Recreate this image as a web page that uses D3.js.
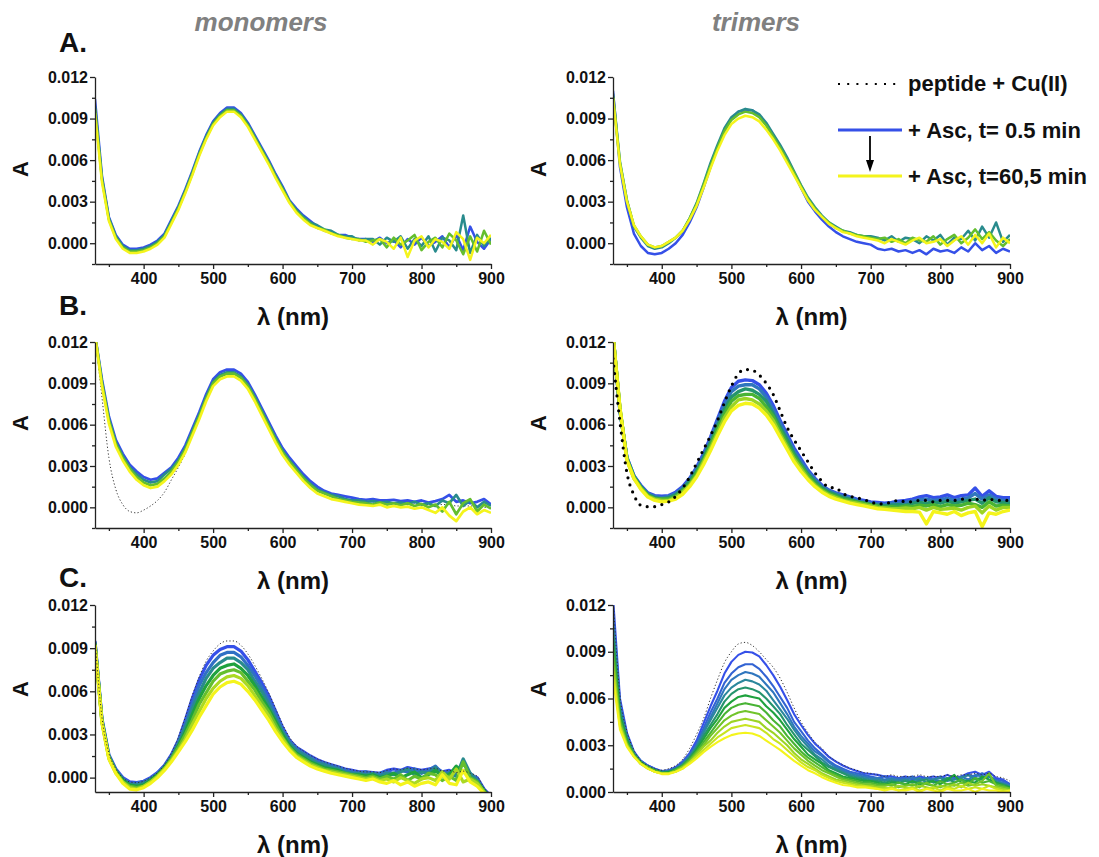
<!DOCTYPE html>
<html>
<head>
<meta charset="utf-8">
<title>Peptide-Cu(II) spectra after ascorbate</title>
<script src="https://d3js.org/d3.v7.min.js"></script>
<style>
  body { margin: 0; background: #fff; }
  svg { font-family: "Liberation Sans", Arial, sans-serif; }
  .axis path, .axis line { stroke: #222; stroke-width: 1.3px; }
  .axis text { font-size: 16px; font-weight: bold; fill: #111; }
  .label { font-weight: bold; fill: #111; }
</style>
</head>
<body>
<script>
// wavelength grid (nm)
const wavelengths = [330,340,350,360,370,380,390,400,410,420,430,440,450,460,470,480,490,500,510,520,
  530,540,550,560,570,580,590,600,610,620,630,640,650,660,670,680,690,700,710,720,
  730,740,750,760,770,780,790,800,810,820,830,840,850,860,870,880,890,900];

// absorbance values in units of 10^-3; each panel lists curves from t=0.5 min to t=60.5 min
const monoA = [
  [10.4,4.9,1.9,0.6,-0.1,-0.4,-0.4,-0.3,-0.1,0.2, 0.7,1.7,2.7,3.9,5.2,6.6,7.8,8.8,9.4,9.8, 9.8,9.4,8.7,7.8,6.9,6.0,5.0,4.1,3.1,2.5, 2.0,1.6,1.2,0.9,0.8,0.6,0.6,0.4, 0.3,0.3,0.1,0.4,0.0,0.2,-0.3,0.3,-0.1,0.4, -0.2,0.1,0.5,-0.3,0.6,-0.5,1.2,0.1,-0.4,0.3],
  [9.9,4.7,1.8,0.5,-0.2,-0.5,-0.5,-0.4,-0.2,0.1, 0.6,1.6,2.6,3.8,5.1,6.5,7.7,8.7,9.3,9.7, 9.7,9.3,8.6,7.7,6.8,5.9,4.9,4.0,3.0,2.4, 1.9,1.5,1.3,1.0,0.9,0.6,0.5,0.5, 0.2,0.3,0.3,-0.1,0.4,0.1,0.5,-0.4,0.3,-0.2, 0.5,-0.6,0.4,0.2,-0.5,2.0,-0.7,0.6,-0.2,0.4],
  [9.7,4.6,1.7,0.4,-0.3,-0.6,-0.6,-0.5,-0.3,0.0, 0.5,1.5,2.5,3.7,5.0,6.4,7.6,8.6,9.2,9.6, 9.6,9.2,8.5,7.6,6.7,5.8,4.8,3.9,3.0,2.3, 1.8,1.4,1.1,1.0,0.7,0.6,0.4,0.3, 0.3,0.1,0.2,0.3,-0.3,0.4,-0.1,0.2,0.6,-0.5, 0.1,0.4,-0.3,0.7,0.2,-0.8,0.5,-0.6,0.9,-0.1],
  [9.4,4.4,1.6,0.3,-0.4,-0.7,-0.7,-0.6,-0.4,-0.1, 0.4,1.4,2.4,3.6,4.9,6.3,7.5,8.5,9.1,9.5, 9.5,9.1,8.4,7.5,6.6,5.7,4.7,3.8,2.9,2.2, 1.7,1.3,1.1,0.9,0.7,0.5,0.4,0.3, 0.2,0.2,-0.1,0.3,0.1,-0.4,0.4,-1.0,0.2,0.5, -0.3,0.3,0.1,-0.4,0.8,0.3,-1.2,0.4,0.0,0.6]
];
const triA = [
  [11.0,5.5,2.6,0.7,-0.2,-0.7,-0.8,-0.7,-0.4,0.0, 0.6,1.5,2.6,4.0,5.5,6.9,8.1,9.0,9.5,9.6, 9.6,9.2,8.6,7.7,6.9,6.0,5.0,4.0,3.0,2.3, 1.7,1.2,0.8,0.5,0.3,0.1,0.0,-0.1, -0.4,-0.5,-0.4,-0.6,-0.5,-0.7,-0.5,-0.8,-0.4,-0.6, -0.5,-0.7,-0.3,-0.6,0.0,-0.5,-0.2,-0.7,-0.4,-0.6],
  [10.8,5.9,3.1,1.2,0.4,-0.2,-0.4,-0.3,0.0,0.4, 0.9,1.8,2.9,4.3,5.8,7.1,8.3,9.1,9.5,9.7, 9.6,9.3,8.7,7.9,7.1,6.2,5.2,4.2,3.3,2.6, 2.0,1.5,1.2,0.9,0.8,0.6,0.5,0.5, 0.4,0.2,0.5,0.1,0.4,0.3,0.0,0.5,0.2,0.6, -0.1,0.4,0.3,0.9,0.2,1.2,0.4,1.5,0.1,0.6],
  [10.6,5.8,3.1,1.3,0.5,-0.1,-0.3,-0.2,0.1,0.4, 0.9,1.8,2.8,4.2,5.6,6.9,8.1,8.9,9.3,9.5, 9.4,9.1,8.5,7.7,6.9,6.0,5.1,4.1,3.2,2.5, 1.9,1.5,1.1,0.9,0.7,0.6,0.5,0.4, 0.3,0.4,0.1,0.3,0.0,0.4,0.2,0.1,0.5,-0.1, 0.3,0.6,0.0,0.4,1.0,0.3,0.8,0.2,-0.2,0.3],
  [10.5,5.7,3.0,1.3,0.5,-0.1,-0.3,-0.2,0.1,0.4, 0.9,1.7,2.7,4.0,5.4,6.7,7.8,8.6,9.0,9.2, 9.1,8.8,8.2,7.5,6.7,5.8,4.9,4.0,3.1,2.4, 1.9,1.4,1.1,0.8,0.7,0.5,0.4,0.3, 0.2,0.0,0.3,0.1,-0.1,0.2,0.4,0.0,0.1,0.3, -0.2,0.2,0.5,-0.1,0.6,0.0,0.7,-0.3,0.4,0.0]
];
const monoB = [
  [12.5,9.3,6.6,4.9,3.9,3.1,2.6,2.2,2.0,2.1, 2.5,2.9,3.6,4.5,5.7,6.9,8.2,9.3,9.8,10.0, 10.0,9.7,9.1,8.2,7.2,6.2,5.2,4.3,3.6,3.0, 2.4,1.9,1.5,1.2,1.0,0.9,0.8,0.7, 0.6,0.55,0.6,0.5,0.5,0.55,0.45,0.5,0.4,0.5, 0.35,0.45,0.6,0.9,0.4,0.5,0.3,0.4,0.6,0.2],
  [12.5,9.1,6.4,4.7,3.7,2.9,2.4,2.0,1.8,1.9, 2.4,2.8,3.4,4.3,5.5,6.7,8.0,9.1,9.6,9.8, 9.8,9.5,8.9,8.0,7.0,6.0,5.0,4.1,3.4,2.8, 2.2,1.7,1.3,1.1,0.9,0.8,0.6,0.5, 0.5,0.4,0.45,0.35,0.4,0.3,0.35,0.25,0.4,0.2, 0.3,0.1,0.5,0.3,0.9,0.1,0.5,0.0,0.4,0.1],
  [12.5,9.0,6.3,4.6,3.6,2.8,2.2,1.8,1.6,1.7, 2.1,2.6,3.3,4.2,5.4,6.6,7.9,9.0,9.5,9.7, 9.7,9.4,8.8,7.9,6.9,5.9,4.9,4.0,3.3,2.7, 2.1,1.6,1.2,1.0,0.8,0.6,0.5,0.4, 0.35,0.3,0.2,0.35,0.2,0.3,0.15,0.3,0.1,0.25, 0.0,0.2,-0.3,0.4,-0.5,0.3,0.6,-0.3,0.2,-0.1],
  [12.5,8.8,6.1,4.4,3.4,2.6,2.0,1.6,1.4,1.5, 1.9,2.4,3.1,4.0,5.2,6.4,7.7,8.8,9.3,9.5, 9.5,9.2,8.6,7.7,6.7,5.7,4.7,3.8,3.1,2.5, 1.9,1.4,1.0,0.8,0.6,0.5,0.4,0.3, 0.2,0.15,0.1,0.2,0.0,0.1,0.0,0.05,-0.1,0.0, -0.2,-0.4,0.0,-0.6,-1.0,-0.3,0.0,-0.5,-0.2,-0.4]
];
const monoBCu = [12.5,8.0,3.6,1.3,0.2,-0.3,-0.4,-0.2,0.1,0.5, 1.1,2.0,2.9,3.9,5.2,6.6,7.9,9.0,9.6,9.9, 9.9,9.5,8.9,8.0,7.0,6.0,5.0,4.1,3.4,2.8, 2.2,1.7,1.3,1.1,0.9,0.8,0.6,0.5, 0.5,0.4,0.4,0.4,0.4,0.3,0.3,0.3,0.3,0.2, 0.2,0.2,0.2,0.2,0.1,0.1,0.1,0.1,0.0,0.0];
const triB = [
  [12.5,7.0,3.6,2.3,1.6,1.05,0.85,0.8,0.85,1.1, 1.5,2.1,2.9,3.9,5.1,6.4,7.7,8.7,9.15,9.25, 9.2,8.9,8.3,7.4,6.3,5.3,4.3,3.5,2.7,2.1, 1.6,1.25,1.05,0.9,0.75,0.6,0.5,0.4, 0.35,0.3,0.35,0.45,0.5,0.6,0.75,0.85,0.7,0.75, 0.9,0.7,0.85,0.9,1.4,0.8,1.2,0.8,0.7,0.7],
  [12.5,7.0,3.6,2.3,1.5,1.0,0.8,0.7,0.8,1.0, 1.4,2.0,2.8,3.7,4.9,6.2,7.4,8.4,8.8,8.9, 8.9,8.6,8.0,7.1,6.1,5.1,4.1,3.3,2.6,2.0, 1.5,1.2,1.0,0.8,0.7,0.5,0.4,0.3, 0.25,0.2,0.3,0.3,0.35,0.45,0.55,0.6,0.5,0.55, 0.65,0.5,0.6,0.7,1.0,0.6,0.9,0.6,0.5,0.5],
  [12.5,7.1,3.5,2.2,1.5,0.9,0.7,0.6,0.7,0.9, 1.3,1.9,2.6,3.6,4.7,5.9,7.1,8.0,8.4,8.6, 8.5,8.2,7.7,6.8,5.8,4.9,3.9,3.1,2.4,1.9, 1.4,1.1,0.9,0.7,0.6,0.4,0.3,0.2, 0.15,0.1,0.15,0.2,0.15,0.3,0.35,0.3,0.4,0.3, 0.45,0.3,0.4,0.5,0.6,0.3,0.7,0.4,0.35,0.3],
  [12.5,7.1,3.5,2.2,1.4,0.9,0.6,0.6,0.6,0.8, 1.2,1.7,2.5,3.4,4.5,5.7,6.8,7.7,8.1,8.2, 8.2,7.9,7.3,6.6,5.6,4.6,3.7,3.0,2.3,1.7, 1.3,1.0,0.8,0.6,0.5,0.4,0.3,0.2, 0.1,0.0,0.05,0.0,0.1,0.05,0.15,0.1,0.2,0.05, 0.2,0.1,0.15,0.3,0.2,0.0,0.4,0.1,0.15,0.1],
  [12.5,7.2,3.4,2.1,1.4,0.8,0.6,0.5,0.5,0.7, 1.1,1.6,2.3,3.3,4.3,5.4,6.5,7.3,7.8,7.9, 7.8,7.5,7.0,6.3,5.3,4.4,3.5,2.8,2.1,1.6, 1.2,0.9,0.7,0.5,0.4,0.3,0.2,0.1, 0.0,-0.05,-0.1,-0.1,-0.05,-0.1,0.0,-0.2,0.0,-0.15, -0.1,-0.05,-0.2,0.0,0.1,-0.4,0.1,-0.2,0.0,0.0],
  [12.5,7.2,3.4,2.1,1.3,0.75,0.5,0.4,0.45,0.6, 0.95,1.5,2.2,3.1,4.1,5.2,6.2,7.0,7.4,7.55, 7.5,7.2,6.7,6.0,5.1,4.2,3.3,2.6,2.0,1.5, 1.1,0.8,0.6,0.45,0.3,0.2,0.1,0.0, -0.1,-0.15,-0.2,-0.25,-0.3,-0.3,-0.35,-1.2,-0.3,-0.4, -0.5,-0.3,-0.6,-0.4,-0.3,-1.4,-0.4,-0.5,-0.3,-0.2]
];
const triBCu = [10.8,6.2,2.5,0.9,0.15,0.05,0.05,0.2,0.4,0.8, 1.4,2.2,3.2,4.2,5.2,6.3,7.6,8.8,9.7,10.0, 9.95,9.6,9.0,8.2,7.0,5.8,4.9,4.1,3.3,2.5, 1.9,1.45,1.4,1.0,0.8,0.7,0.55,0.4, 0.25,0.25,0.4,0.5,0.4,0.4,0.5,0.5,0.4,0.5, 0.5,0.5,0.6,0.5,0.6,0.5,0.6,0.5,0.5,0.5];
const monoC = [
  [9.5,4.1,1.6,0.6,0.0,-0.3,-0.35,-0.25,0.0,0.35, 0.85,1.6,2.6,4.0,5.5,6.8,7.8,8.5,8.9,9.1, 9.1,8.8,8.2,7.4,6.6,5.7,4.6,3.5,2.6,2.1, 1.8,1.5,1.25,1.05,0.9,0.75,0.6,0.5, 0.4,0.4,0.35,0.3,0.5,0.6,0.5,0.7,0.6,0.5, 0.6,0.7,0.4,0.5,0.3,0.4,0.2,0.0,-0.8,-1.3],
  [9.4,4.0,1.5,0.5,-0.1,-0.4,-0.4,-0.3,-0.1,0.3, 0.8,1.5,2.5,3.7,5.1,6.4,7.3,8.0,8.5,8.7, 8.7,8.4,7.8,7.1,6.3,5.4,4.4,3.3,2.5,2.0, 1.7,1.4,1.1,1.0,0.8,0.7,0.5,0.4, 0.3,0.4,0.2,0.3,0.4,0.3,0.5,0.4,0.6,0.3, 0.5,0.8,0.3,0.4,0.2,0.5,0.3,-0.1,-0.9,-1.4],
  [9.4,4.0,1.5,0.5,-0.1,-0.5,-0.5,-0.4,-0.1,0.2, 0.7,1.4,2.3,3.5,4.8,5.9,6.9,7.6,8.0,8.3, 8.3,8.0,7.5,6.7,6.0,5.1,4.1,3.2,2.4,1.9, 1.6,1.3,1.0,0.9,0.7,0.6,0.4,0.3, 0.3,0.2,0.3,0.1,0.3,0.2,0.4,0.6,0.2,0.4, 0.3,0.7,0.2,0.3,0.1,1.3,0.3,-0.2,-0.9,-1.5],
  [9.3,3.9,1.4,0.4,-0.2,-0.5,-0.6,-0.5,-0.2,0.2, 0.7,1.3,2.2,3.2,4.4,5.5,6.4,7.1,7.6,7.8, 7.9,7.6,7.1,6.4,5.6,4.8,3.9,3.0,2.2,1.7, 1.4,1.1,0.9,0.7,0.6,0.5,0.3,0.2, 0.2,0.1,0.2,0.0,0.1,0.3,0.0,0.2,0.4,0.0, 0.2,0.5,0.1,0.2,0.8,0.4,0.0,-0.3,-0.9,-1.4],
  [9.3,3.9,1.4,0.4,-0.3,-0.6,-0.7,-0.6,-0.3,0.1, 0.6,1.3,2.1,3.0,4.0,5.1,5.9,6.7,7.2,7.4, 7.5,7.3,6.7,6.1,5.3,4.6,3.7,2.8,2.1,1.6, 1.3,1.0,0.8,0.6,0.5,0.4,0.3,0.2, 0.1,0.0,0.1,-0.1,0.1,-0.1,0.2,-0.2,0.1,-0.1, 0.3,0.2,-0.2,0.1,-0.2,1.1,0.0,-0.3,-1.0,-1.5],
  [9.2,3.8,1.3,0.3,-0.3,-0.7,-0.8,-0.6,-0.3,0.1, 0.6,1.2,1.9,2.7,3.7,4.6,5.5,6.2,6.7,7.0, 7.1,6.9,6.4,5.7,5.0,4.3,3.4,2.7,2.0,1.5, 1.2,0.9,0.7,0.5,0.4,0.3,0.2,0.1, 0.0,-0.1,0.0,-0.2,-0.1,-0.3,0.0,-0.2,-0.4,-0.1, 0.0,-0.2,0.4,-0.1,0.6,-0.3,-0.1,-0.4,-1.0,-1.5],
  [9.2,3.8,1.3,0.3,-0.4,-0.8,-0.85,-0.7,-0.4,0.0, 0.5,1.1,1.8,2.5,3.3,4.2,5.0,5.8,6.3,6.6, 6.7,6.5,6.0,5.4,4.7,4.0,3.2,2.5,1.9,1.4, 1.1,0.8,0.6,0.45,0.3,0.2,0.1,0.0, -0.1,-0.2,-0.1,-0.3,-0.4,-0.2,-0.5,-0.3,-0.6,-0.4, -0.3,-0.5,0.2,-0.4,-0.5,0.5,-0.3,-0.6,-1.1,-1.6]
];
const monoCCu = [9.6,4.2,1.7,0.6,0.0,-0.3,-0.35,-0.25,0.0,0.35, 0.9,1.7,2.8,4.2,5.7,7.0,8.1,8.8,9.3,9.5, 9.5,9.2,8.6,7.8,6.9,5.9,4.8,3.7,2.8,2.2, 1.85,1.55,1.3,1.1,0.95,0.8,0.65,0.55, 0.45,0.4,0.4,0.35,0.5,0.6,0.55,0.65,0.6,0.55, 0.6,0.65,0.45,0.5,0.35,0.45,0.3,0.1,-0.7,-1.2];
const triC = [
  [12.5,6.0,3.8,2.6,2.0,1.7,1.5,1.35,1.4,1.6, 1.95,2.5,3.3,4.4,5.5,6.5,7.6,8.35,8.8,9.0, 8.95,8.7,8.15,7.5,6.75,5.9,5.0,4.3,3.65,3.1, 2.7,2.25,1.95,1.7,1.5,1.35,1.2,1.15, 1.1,1.0,1.0,0.9,1.0,0.8,1.0,0.9,1.0,0.9, 1.1,0.9,1.0,1.2,1.3,1.1,1.3,0.9,0.8,0.5],
  [11.7,5.7,3.7,2.5,2.0,1.7,1.5,1.3,1.4,1.5, 1.9,2.4,3.1,4.1,5.1,6.0,7.0,7.6,8.0,8.2, 8.2,7.9,7.4,6.8,6.1,5.4,4.5,3.9,3.3,2.8, 2.4,2.0,1.7,1.5,1.3,1.2,1.1,1.0, 0.9,1.0,0.8,0.9,0.9,1.0,0.8,0.9,0.8,1.0, 0.8,1.0,0.9,1.1,1.0,1.2,1.0,0.8,0.7,0.5],
  [11.2,5.5,3.6,2.5,2.0,1.6,1.4,1.3,1.3,1.5, 1.8,2.3,3.0,3.9,4.8,5.7,6.6,7.2,7.5,7.7, 7.6,7.4,6.9,6.4,5.7,5.0,4.2,3.6,3.1,2.6, 2.3,1.9,1.6,1.4,1.2,1.1,1.0,0.9, 0.9,0.8,0.9,0.8,0.8,0.9,0.7,0.9,0.8,0.7, 0.9,0.8,1.0,0.8,1.1,1.0,1.0,0.7,0.6,0.4],
  [10.7,5.3,3.5,2.5,1.9,1.6,1.4,1.3,1.3,1.5, 1.8,2.3,2.9,3.8,4.6,5.4,6.2,6.7,7.0,7.2, 7.1,6.9,6.5,5.9,5.3,4.7,4.0,3.4,2.9,2.4, 2.1,1.7,1.5,1.3,1.1,1.0,0.9,0.8, 0.8,0.7,0.8,0.7,0.8,0.7,0.9,0.6,0.8,0.9, 0.7,0.8,0.9,1.1,0.8,0.9,1.0,0.7,0.5,0.4],
  [10.2,5.1,3.4,2.4,1.9,1.6,1.4,1.3,1.3,1.5, 1.7,2.2,2.8,3.6,4.3,5.0,5.8,6.3,6.6,6.7, 6.6,6.4,6.0,5.5,5.0,4.3,3.7,3.1,2.7,2.3, 1.9,1.6,1.4,1.2,1.0,0.9,0.8,0.7, 0.7,0.6,0.7,0.6,0.7,0.6,0.7,0.8,0.6,0.7, 0.9,0.6,0.8,0.7,0.9,0.8,1.1,0.6,0.5,0.3],
  [9.7,4.9,3.3,2.4,1.9,1.6,1.4,1.2,1.3,1.4, 1.7,2.1,2.7,3.4,4.1,4.7,5.4,5.8,6.1,6.2, 6.1,6.0,5.5,5.1,4.6,4.0,3.4,2.9,2.4,2.1, 1.8,1.4,1.2,1.0,0.9,0.8,0.7,0.7, 0.6,0.5,0.6,0.6,0.5,0.7,0.5,0.6,0.7,0.5, 0.8,1.1,0.6,0.7,0.6,1.0,0.8,0.6,0.4,0.3],
  [9.2,4.7,3.2,2.4,1.9,1.6,1.4,1.2,1.2,1.4, 1.7,2.1,2.6,3.2,3.8,4.4,5.0,5.4,5.6,5.7, 5.6,5.5,5.1,4.6,4.2,3.6,3.1,2.6,2.2,1.9, 1.6,1.3,1.1,0.9,0.8,0.7,0.6,0.6, 0.5,0.5,0.4,0.6,0.5,0.4,0.6,0.5,0.4,0.7, 0.5,0.6,0.8,0.5,0.9,0.6,0.7,0.5,0.4,0.2],
  [8.7,4.5,3.1,2.3,1.8,1.6,1.3,1.2,1.2,1.4, 1.6,2.0,2.5,3.0,3.6,4.1,4.6,4.9,5.1,5.2, 5.1,5.0,4.6,4.2,3.8,3.3,2.8,2.4,2.0,1.7, 1.4,1.2,1.0,0.8,0.7,0.6,0.5,0.5, 0.4,0.4,0.5,0.3,0.4,0.5,0.3,0.6,0.4,0.3, 0.5,0.4,0.6,0.4,0.5,0.7,1.2,0.4,0.3,0.2],
  [8.2,4.3,3.0,2.3,1.8,1.5,1.3,1.2,1.2,1.3, 1.6,1.9,2.4,2.9,3.3,3.8,4.2,4.5,4.6,4.7, 4.6,4.5,4.1,3.8,3.4,3.0,2.5,2.1,1.8,1.5, 1.2,1.0,0.8,0.7,0.6,0.5,0.4,0.4, 0.3,0.3,0.2,0.4,0.3,0.2,0.4,0.3,0.2,0.4, 0.3,0.5,0.3,0.6,0.4,0.5,0.4,0.3,0.2,0.1],
  [7.8,4.2,3.0,2.3,1.8,1.5,1.3,1.2,1.2,1.3, 1.5,1.9,2.3,2.7,3.1,3.5,3.8,4.1,4.2,4.3, 4.2,4.1,3.8,3.4,3.1,2.7,2.3,1.9,1.6,1.4, 1.1,0.9,0.7,0.6,0.5,0.4,0.4,0.3, 0.2,0.2,0.3,0.1,0.2,0.3,0.1,0.2,0.3,0.1, 0.3,0.2,0.4,0.2,0.3,0.2,0.4,0.2,0.1,0.1],
  [7.3,4.0,2.9,2.25,1.8,1.5,1.3,1.15,1.15,1.3, 1.5,1.8,2.15,2.55,2.9,3.2,3.45,3.65,3.75,3.8, 3.75,3.6,3.3,3.0,2.7,2.35,2.0,1.7,1.4,1.2, 0.95,0.75,0.6,0.45,0.4,0.3,0.3,0.25, 0.2,0.1,0.2,0.1,0.1,0.2,0.0,0.2,0.1,0.0, 0.2,0.1,0.1,0.2,0.0,0.2,0.1,0.1,0.0,0.1]
];
const triCCu = [12.5,6.2,3.9,2.7,2.0,1.7,1.5,1.4,1.5,1.7, 2.1,2.8,3.7,4.7,6.0,7.2,8.3,9.0,9.5,9.6, 9.4,9.0,8.5,8.0,7.3,6.4,5.4,4.5,3.8,3.2, 2.8,2.3,2.0,1.75,1.55,1.4,1.25,1.2, 1.1,1.0,1.1,1.0,1.0,1.0,1.1,1.0,1.0,1.0, 1.1,1.0,1.1,1.1,1.2,1.1,1.2,1.0,0.9,0.7];

const columnTitles = ["monomers", "trimers"];
const rowLetters = ["A.", "B.", "C."];
const legendLabels = ["peptide + Cu(II)", "+ Asc, t= 0.5 min", "+ Asc, t=60,5 min"];
const xMajor = [400, 500, 600, 700, 800, 900];
const xMinor = [350, 450, 550, 650, 750, 850];
const yMajor = [0, 0.003, 0.006, 0.009, 0.012];
const yMinor = [-0.0015, 0.0015, 0.0045, 0.0075, 0.0105];

// layout
const colX = [[95, 491], [613, 1010]];
const rowY = [[77, 264], [342, 528], [605, 792]];
const colTitleX = [261, 756];
const yLabelX = [28, 546];
const yLabelY = [169, 423, 689];
const letterY = [52, 315, 587];

const timeColor = d3.piecewise(d3.interpolateRgb, ["#3550e8", "#2e80b4", "#1fa23e", "#86cc26", "#f4f41c"]);

const panels = [
  { curves: monoA, col: 0, row: 0, yMin: -0.0015, width: 2.5 },
  { curves: triA,  col: 1, row: 0, yMin: -0.0015, width: 2.5 },
  { curves: monoB, cu: monoBCu, cuStyle: "fine", cuBelow: true, col: 0, row: 1, yMin: -0.0015, width: 2.7 },
  { curves: triB,  cu: triBCu, cuStyle: "bold", col: 1, row: 1, yMin: -0.0015, width: 3.4 },
  { curves: monoC, cu: monoCCu, cuStyle: "fine", col: 0, row: 2, yMin: -0.001, width: 3.2 },
  { curves: triC,  cu: triCCu, cuStyle: "fine", col: 1, row: 2, yMin: 0, width: 2.1 }
];

const svg = d3.select("body").append("svg")
  .attr("width", 1099)
  .attr("height", 857);

const fmt = d3.format(".3f");

panels.forEach((p, k) => {
  const [xl, xr] = colX[p.col];
  const [yt, yb] = rowY[p.row];
  const x = d3.scaleLinear().domain([330, 900]).range([xl, xr]);
  const y = d3.scaleLinear().domain([p.yMin, 0.012]).range([yb, yt]);

  const clipId = "clip" + k;
  svg.append("clipPath").attr("id", clipId)
    .append("rect")
    .attr("x", xl).attr("y", yt)
    .attr("width", xr - xl).attr("height", yb - yt);

  const plot = svg.append("g").attr("clip-path", `url(#${clipId})`);

  const line = d3.line()
    .x((d, i) => x(wavelengths[i]))
    .y(d => y(d / 1000));

  const drawCu = () => {
    const path = plot.append("path")
      .datum(p.cu)
      .attr("fill", "none")
      .attr("d", line.curve(d3.curveMonotoneX));
    if (p.cuStyle === "bold") {
      path.attr("stroke", "#000").attr("stroke-width", 3.2)
        .attr("stroke-linecap", "round").attr("stroke-dasharray", "0 7.5");
    } else {
      path.attr("stroke", "#333").attr("stroke-width", 1)
        .attr("stroke-dasharray", "1.2 2.2");
    }
  };

  if (p.cu && p.cuBelow) drawCu();

  const n = p.curves.length;
  plot.selectAll("path.spec")
    .data(p.curves)
    .join("path")
    .attr("class", "spec")
    .attr("fill", "none")
    .attr("stroke", (d, i) => timeColor(i / (n - 1)))
    .attr("stroke-width", p.width)
    .attr("stroke-linejoin", "round")
    .attr("d", line.curve(d3.curveLinear));

  if (p.cu && !p.cuBelow) drawCu();

  // axes
  svg.append("g").attr("class", "axis")
    .attr("transform", `translate(0,${yb})`)
    .call(d3.axisBottom(x).tickValues(xMajor).tickSize(5).tickPadding(4).tickSizeOuter(0));
  svg.append("g").attr("class", "axis")
    .attr("transform", `translate(0,${yb})`)
    .call(d3.axisBottom(x).tickValues(xMinor).tickSize(3).tickFormat(""))
    .select(".domain").remove();

  svg.append("g").attr("class", "axis")
    .attr("transform", `translate(${xl},0)`)
    .call(d3.axisLeft(y).tickValues(yMajor).tickFormat(fmt).tickSize(5).tickPadding(2).tickSizeOuter(0));
  svg.append("g").attr("class", "axis")
    .attr("transform", `translate(${xl},0)`)
    .call(d3.axisLeft(y).tickValues(yMinor.filter(v => v >= p.yMin)).tickSize(3).tickFormat(""))
    .select(".domain").remove();

  // axis titles
  svg.append("text").attr("class", "label")
    .attr("x", (xl + xr) / 2).attr("y", yb + 61)
    .attr("text-anchor", "middle")
    .style("font-size", "24px")
    .text("λ (nm)");

  svg.append("text").attr("class", "label")
    .attr("transform", `translate(${yLabelX[p.col]},${yLabelY[p.row]}) rotate(-90)`)
    .attr("text-anchor", "middle")
    .style("font-size", "22px")
    .text("A");
});

// column titles
svg.selectAll("text.coltitle")
  .data(columnTitles)
  .join("text")
  .attr("class", "coltitle")
  .attr("x", (d, i) => colTitleX[i])
  .attr("y", 31)
  .attr("text-anchor", "middle")
  .style("font-size", "26px")
  .style("font-weight", "bold")
  .style("font-style", "italic")
  .style("fill", "#808080")
  .text(d => d);

// row letters
svg.selectAll("text.letter")
  .data(rowLetters)
  .join("text")
  .attr("class", "label letter")
  .attr("x", 59)
  .attr("y", (d, i) => letterY[i])
  .style("font-size", "28px")
  .text(d => d);

// legend
const legend = svg.append("g");
legend.append("line")
  .attr("x1", 838).attr("x2", 897).attr("y1", 84).attr("y2", 84)
  .attr("stroke", "#000").attr("stroke-width", 2)
  .attr("stroke-dasharray", "2 7.2");
legend.append("line")
  .attr("x1", 838).attr("x2", 902).attr("y1", 130).attr("y2", 130)
  .attr("stroke", timeColor(0)).attr("stroke-width", 3);
legend.append("line")
  .attr("x1", 838).attr("x2", 902).attr("y1", 176).attr("y2", 176)
  .attr("stroke", timeColor(1)).attr("stroke-width", 3);
legend.append("line")
  .attr("x1", 870).attr("x2", 870).attr("y1", 136).attr("y2", 162)
  .attr("stroke", "#000").attr("stroke-width", 1.8);
legend.append("path")
  .attr("d", "M866,160L874,160L870,172Z")
  .attr("fill", "#000");
legend.selectAll("text")
  .data(legendLabels)
  .join("text")
  .attr("class", "label")
  .attr("x", 908)
  .attr("y", (d, i) => [91, 138, 184][i])
  .style("font-size", "22px")
  .text(d => d);
</script>
</body>
</html>
